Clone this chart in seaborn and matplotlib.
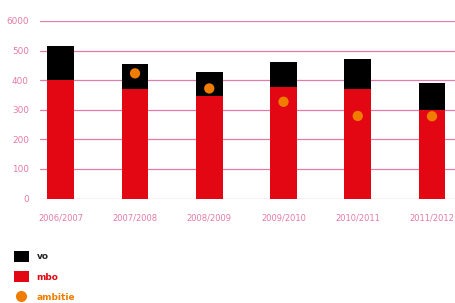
import matplotlib
matplotlib.use("Agg")
import matplotlib.pyplot as plt
import seaborn as sns
import pandas as pd
from matplotlib.patches import Patch
from matplotlib.lines import Line2D

years = ["2006/2007", "2007/2008", "2008/2009", "2009/2010", "2010/2011", "2011/2012"]
mbo = [402, 369, 348, 376, 369, 298]
vo = [115, 87, 81, 87, 101, 94]
ambitie = [None, 423, 372, 327, 279, 278]
ytick_vals = [0, 100, 200, 300, 400, 500, 600]
ytick_labels = ["0", "100", "200", "300", "400", "500", "6000"]

RED = "#E30613"
ORANGE = "#F07D00"
PINK = "#E27BAA"
TICK = "#E57AA6"

sns.set_theme(style="white")
plt.rcParams["font.family"] = ["DejaVu Sans"]

df = pd.DataFrame({"jaar": years, "mbo": mbo, "vo": vo, "ambitie": ambitie})
df["totaal"] = df["mbo"] + df["vo"]

fig = plt.figure(figsize=(4.55, 3.03), dpi=100)
ax = fig.add_axes([40 / 455, (303 - 198.5) / 303, 415 / 455, 177.5 / 303])

for y in ytick_vals:
    ax.axhline(y, color=PINK, lw=0.9, zorder=0)

sns.barplot(data=df, x="jaar", y="totaal", color="black", width=0.36,
            saturation=1, linewidth=0, ax=ax, zorder=2)
sns.barplot(data=df, x="jaar", y="mbo", color=RED, width=0.36,
            saturation=1, linewidth=0, ax=ax, zorder=3)
sns.scatterplot(data=df.dropna(), x="jaar", y="ambitie", color=ORANGE, s=55,
                edgecolor="none", ax=ax, zorder=4)

ax.set_ylim(0, 600)
ax.set_xlim(-0.28, 5.31)
ax.set_yticks(ytick_vals)
ax.set_yticklabels(ytick_labels)
ax.set_xlabel("")
ax.set_ylabel("")
for s in ax.spines.values():
    s.set_visible(False)
ax.tick_params(axis="y", colors=TICK, labelsize=6.4, length=0, pad=8)
ax.tick_params(axis="x", colors=TICK, labelsize=6, length=0, pad=11)
ax.grid(False)

handles = [
    Patch(facecolor="black", edgecolor="none"),
    Patch(facecolor=RED, edgecolor="none"),
    Line2D([], [], marker="o", color="none", markerfacecolor=ORANGE,
           markeredgecolor="none", markersize=8),
]
leg = fig.legend(handles, ["vo", "mbo", "ambitie"], loc="upper left",
                 bbox_to_anchor=(6 / 455, 1 - 242.5 / 303), frameon=False,
                 fontsize=6.5, handlelength=1.6, handleheight=1.5,
                 labelspacing=1.05, handletextpad=0.9, borderaxespad=0,
                 borderpad=0.9)
for t, c in zip(leg.get_texts(), ["#222222", RED, ORANGE]):
    t.set_color(c)
    t.set_fontweight("bold")

fig.savefig("out.png", dpi=100)
